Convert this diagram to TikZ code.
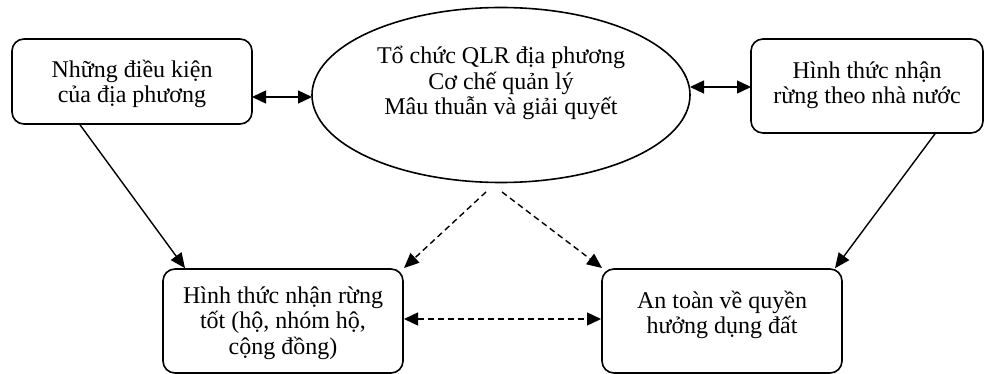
\documentclass[tikz,border=0pt]{standalone}
\usepackage{fontspec}
\setmainfont{Liberation Serif}
\usetikzlibrary{arrows.meta,shapes.geometric,calc}
\begin{document}
\begin{tikzpicture}[x=1pt,y=-1pt,
  box/.style={draw,line width=1.6pt,rounded corners=12pt,inner sep=0pt},
  txt/.style={align=center,inner sep=0pt,font=\fontsize{24}{25.5}\selectfont},
  tip/.style={Triangle[length=15pt,width=13pt]},
  conn/.style={line width=1.4pt,-{Triangle[length=15pt,width=13pt]}},
  dconn/.style={conn,dash pattern=on 6pt off 4pt},
  both/.style={line width=1.4pt,{Triangle[length=14pt,width=13pt]}-{Triangle[length=14pt,width=13pt]}}]
\useasboundingbox (0,0) rectangle (984,374);
% boxes
\node[box,minimum width=240pt,minimum height=85pt] (A) at (132,81.5) {};
\node[txt] (At) at (132,84) {Những điều kiện\\của địa phương};
\node[draw,ellipse,line width=1.6pt,minimum width=378pt,minimum height=175pt,inner sep=0pt] (O) at (501,95) {};
\node[txt] (Ot) at (501,83) {Tổ chức QLR địa phương\\Cơ chế quản lý\\Mâu thuẫn và giải quyết};
\node[box,minimum width=232pt,minimum height=94pt] (C) at (867,86) {};
\node[txt] (Ct) at (867,85) {Hình thức nhận\\rừng theo nhà nước};
\node[box,minimum width=240pt,minimum height=104pt] (D) at (283,321) {};
\node[txt] (Dt) at (283,323) {Hình thức nhận rừng\\tốt (hộ, nhóm hộ,\\cộng đồng)};
\node[box,minimum width=240pt,minimum height=104pt] (E) at (722,321) {};
\node[txt] (Et) at (722,315) {An toàn về quyền\\hưởng dụng đất};
% connectors
\coordinate (a1) at (252,97);
\coordinate (o1) at (312,97);
\draw[both] (a1) -- (o1);
\coordinate (o2) at (690,87);
\coordinate (c1) at (751,87);
\draw[both] (o2) -- (c1);
\draw[conn] ([xshift=-52pt]A.south) -- ([xshift=-98pt]D.north);
\draw[conn] ([xshift=68pt]C.south) -- ([xshift=113pt]E.north);
\coordinate (o3) at (486,192);
\coordinate (o4) at (502,192);
\coordinate (d1) at (404,268);
\coordinate (e1) at (602,268);
\draw[dconn] (o3) -- (d1);
\draw[dconn] (o4) -- (e1);
\coordinate (d2) at (404,319);
\coordinate (e2) at (601,319);
\draw[dconn,{Triangle[length=14pt,width=13pt]}-{Triangle[length=14pt,width=13pt]}] (d2) -- (e2);
\end{tikzpicture}
\end{document}
